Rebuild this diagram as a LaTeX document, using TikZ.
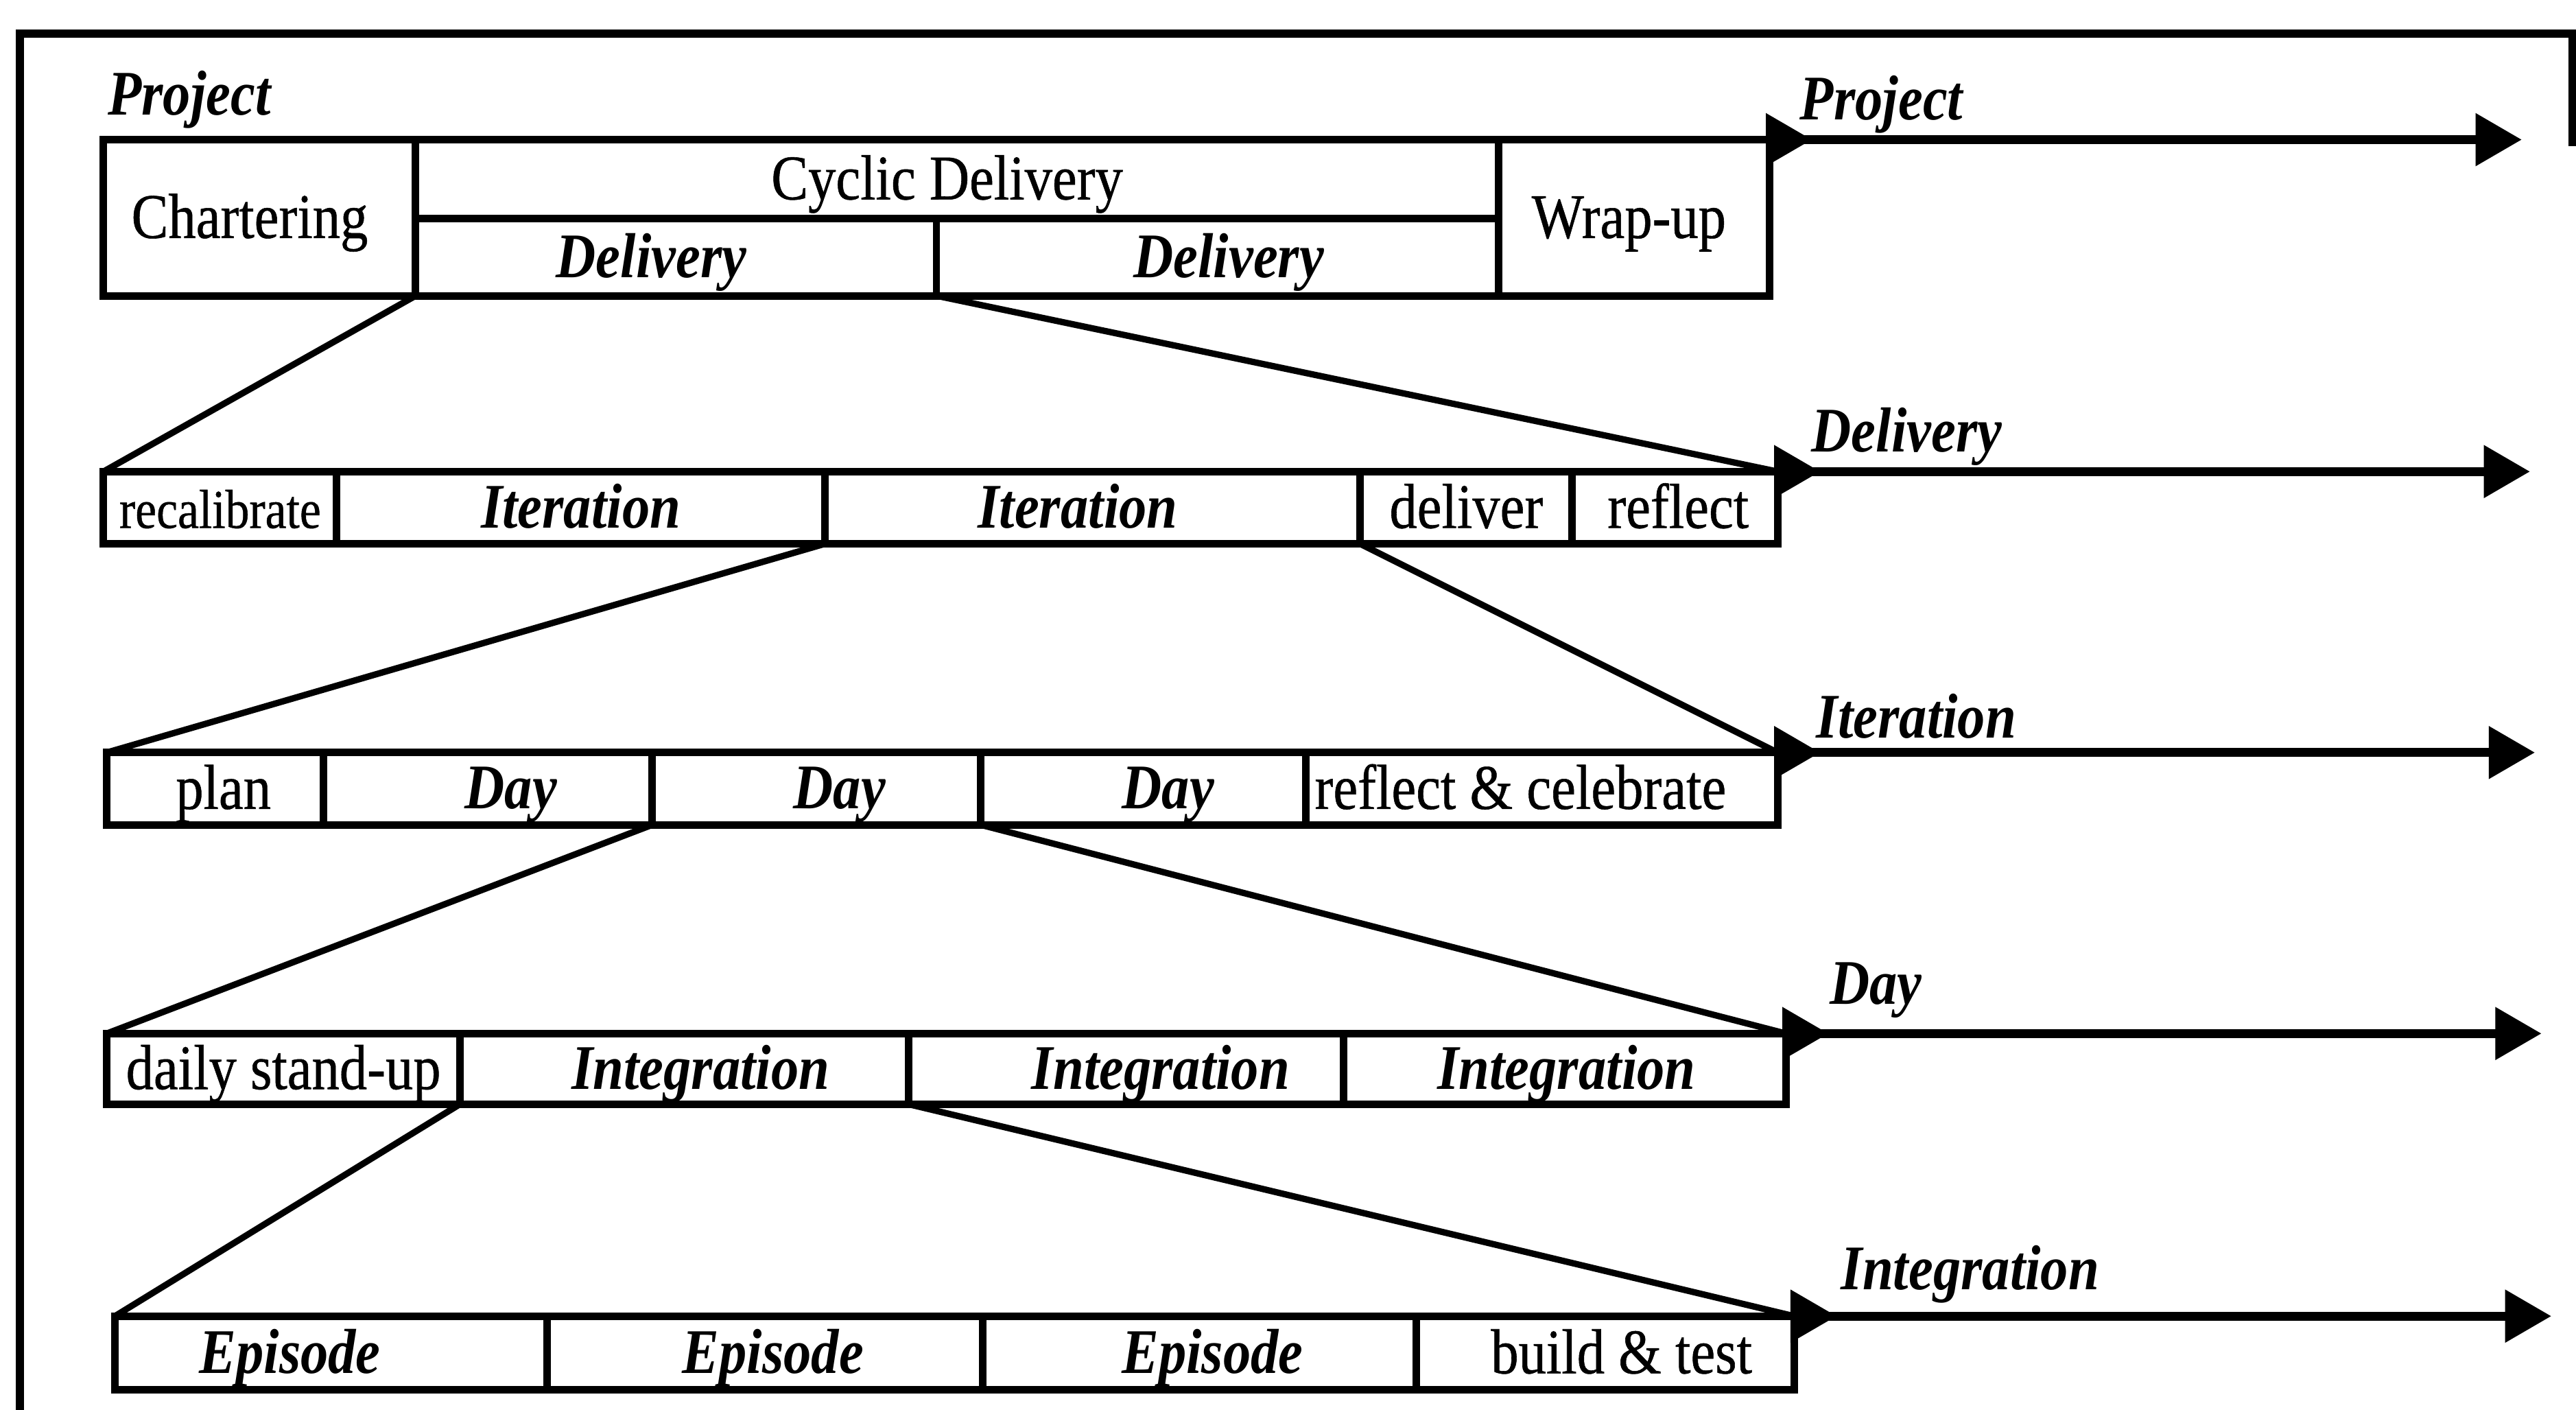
\documentclass[tikz,border=0pt]{standalone}
\usepackage{fontspec}
\setmainfont[FakeStretch=0.87,UprightFeatures={FakeBold=0.6}]{Liberation Serif}
\usetikzlibrary{arrows.meta}

% one box of a phase bar: name, x1, y1, x2, y2, extra style, text, text offset
\newcommand\phasecell[8]{%
  \node[cell,#6,minimum width={(#4-#2)*0.01cm},minimum height={(#5-#3)*0.01cm}] (#1) at (#2,#3)
    {\hspace*{#8\dimexpr0.02cm\relax}#7};}

\begin{document}
\begin{tikzpicture}[x=0.01cm,y=-0.01cm,
  cell/.style={draw,line width=1.3pt,inner sep=0pt,outer sep=0pt,anchor=north west,
    text height=9pt,text depth=2pt,font=\fontsize{11}{13}\selectfont},
  bi/.style={font=\fontsize{11}{13}\selectfont\bfseries\itshape},
  small/.style={font=\fontsize{9.5}{11}\selectfont},
  lvl/.style={anchor=base west,inner sep=0pt,font=\fontsize{11}{13}\selectfont\bfseries\itshape},
  zoomline/.style={line width=1.1pt},
  timeline/.style={line width=1.5pt,-{Triangle[length=8pt,width=8.8pt]}},
  frame/.style={line width=1.4pt}]

\useasboundingbox (0,0) rectangle (1568,858);

% outer frame
\draw[frame] (1566,89) -- (1566,20.5) -- (12,20.5) -- (12,900);

% ---- Project ----
\node[lvl] (lproj) at (65,70) {Project};
\phasecell{char}{63}{85}{253}{180}{}{Chartering}{-6}
\phasecell{cyc}{253}{85}{912}{133}{}{Cyclic Delivery}{-6}
\phasecell{del1}{253}{133}{570}{180}{bi}{Delivery}{-15}
\phasecell{del2}{570}{133}{912}{180}{bi}{Delivery}{7}
\phasecell{wrap}{912}{85}{1077}{180}{}{Wrap-up}{-3}
\coordinate (endproj) at (1535,85);
\draw[timeline] (wrap.north east) -- (endproj);
\draw[timeline] (wrap.north east) -- ++(26,0);
\node[lvl] (rproj) at (1095,73) {Project};

% ---- Delivery ----
\phasecell{recal}{63}{287}{205}{331}{small}{recalibrate}{0}
\phasecell{it1}{205}{287}{502}{331}{bi}{Iteration}{0}
\phasecell{it2}{502}{287}{828}{331}{bi}{Iteration}{-9}
\phasecell{dlv}{828}{287}{957}{331}{}{deliver}{0}
\phasecell{refl}{957}{287}{1082}{331}{}{reflect}{2}
\coordinate (enddel) at (1540,287);
\draw[timeline] (refl.north east) -- (enddel);
\draw[timeline] (refl.north east) -- ++(26,0);
\node[lvl] (rdel) at (1102,275) {Delivery};
\draw[zoomline] (del1.south west) -- (recal.north west);
\draw[zoomline] (del1.south east) -- (refl.north east);

% ---- Iteration ----
\phasecell{plan}{65}{458}{197}{502}{}{plan}{5}
\phasecell{day1}{197}{458}{397}{502}{bi}{Day}{14}
\phasecell{day2}{397}{458}{597}{502}{bi}{Day}{14}
\phasecell{day3}{597}{458}{795}{502}{bi}{Day}{15}
\phasecell{celeb}{795}{458}{1082}{502}{}{reflect \& celebrate}{-13}
\coordinate (endit) at (1543,458);
\draw[timeline] (celeb.north east) -- (endit);
\draw[timeline] (celeb.north east) -- ++(26,0);
\node[lvl] (rit) at (1105,449) {Iteration};
\draw[zoomline] (it2.south west) -- (plan.north west);
\draw[zoomline] (it2.south east) -- (celeb.north east);

% ---- Day ----
\phasecell{stand}{65}{629}{280}{672}{}{daily stand-up}{0}
\phasecell{in1}{280}{629}{553}{672}{bi}{Integration}{10}
\phasecell{in2}{553}{629}{818}{672}{bi}{Integration}{21}
\phasecell{in3}{818}{629}{1087}{672}{bi}{Integration}{1}
\coordinate (endday) at (1547,629);
\draw[timeline] (in3.north east) -- (endday);
\draw[timeline] (in3.north east) -- ++(26,0);
\node[lvl] (rday) at (1113,611) {Day};
\draw[zoomline] (day2.south west) -- (stand.north west);
\draw[zoomline] (day2.south east) -- (in3.north east);

% ---- Integration ----
\phasecell{ep1}{70}{801}{333}{846}{bi}{Episode}{-25}
\phasecell{ep2}{333}{801}{598}{846}{bi}{Episode}{5}
\phasecell{ep3}{598}{801}{862}{846}{bi}{Episode}{8}
\phasecell{build}{862}{801}{1092}{846}{}{build \& test}{10}
\coordinate (endint) at (1553,801);
\draw[timeline] (build.north east) -- (endint);
\draw[timeline] (build.north east) -- ++(26,0);
\node[lvl] (rint) at (1120,785) {Integration};
\draw[zoomline] (in1.south west) -- (ep1.north west);
\draw[zoomline] (in1.south east) -- (build.north east);

\end{tikzpicture}
\end{document}
